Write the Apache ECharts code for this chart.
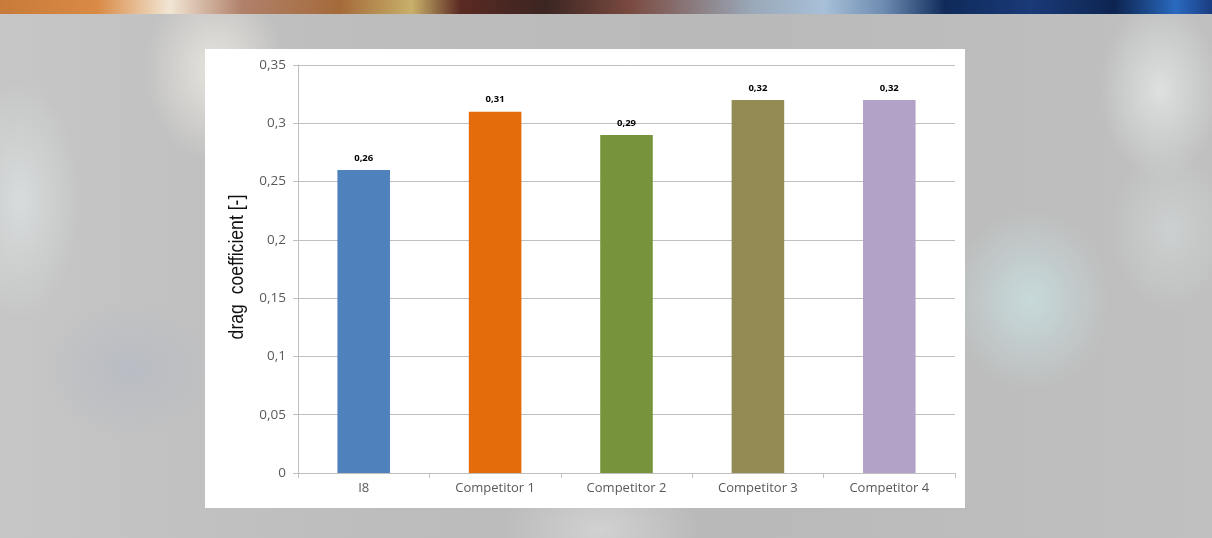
<!DOCTYPE html>
<html><head><meta charset="utf-8">
<script src="https://cdn.jsdelivr.net/npm/echarts@6/dist/echarts.min.js"></script>
<style>
html,body{margin:0;padding:0;width:1212px;height:538px;overflow:hidden;}
body{position:relative;background:#bcbcbc;}
#bg{position:absolute;left:0;top:0;width:1212px;height:538px;
background:
radial-gradient(ellipse 70px 90px at 215px 70px, rgba(235,232,225,0.9), rgba(235,232,225,0) 100%),
radial-gradient(ellipse 60px 120px at 20px 200px, rgba(220,225,225,0.8), rgba(220,225,225,0) 100%),
radial-gradient(ellipse 80px 90px at 1030px 300px, rgba(200,220,222,0.9), rgba(200,220,222,0) 100%),
radial-gradient(ellipse 60px 90px at 1160px 90px, rgba(225,228,228,0.9), rgba(225,228,228,0) 100%),
radial-gradient(ellipse 60px 80px at 1170px 230px, rgba(210,215,215,0.7), rgba(210,215,215,0) 100%),
radial-gradient(ellipse 90px 70px at 130px 370px, rgba(180,185,195,0.7), rgba(180,185,195,0) 100%),
radial-gradient(ellipse 100px 60px at 600px 530px, rgba(215,215,215,0.8), rgba(215,215,215,0) 100%),
linear-gradient(90deg,#c6c6c6 0%,#bdbdbd 30%,#b9b9b9 60%,#c0c0c0 100%);}
#strip{position:absolute;left:0;top:0;width:1212px;height:14px;
background:linear-gradient(90deg,#c87a3a 0%,#d98a45 8%,#f1e6d4 14%,#b0806a 20%,#a46a3a 28%,#c8b06a 34%,#5a2a22 38%,#3b2522 45%,#7a4a40 52%,#9aa8b8 62%,#a8c0d8 68%,#6c8ab0 73%,#0f2a5a 78%,#1a3a78 85%,#0d2450 92%,#2a6ac0 97%,#1a3c80 100%);}
#chart{position:absolute;left:205px;top:49px;width:760px;height:459px;background:#fff;}
</style></head>
<body>
<div id="bg"></div><div id="strip"></div>
<div id="chart"></div>
<script>
const categories = ['I8','Competitor 1','Competitor 2','Competitor 3','Competitor 4'];
const values = [0.26, 0.31, 0.29, 0.32, 0.32];
const colors = ['#4F81BD','#E46C0A','#77933C','#948A54','#B2A2C7'];
const yTicks = [0, 0.05, 0.1, 0.15, 0.2, 0.25, 0.3, 0.35];
const yTitle = 'drag  coefficient [-]';
const fmt = v => String(v).replace('.', ',');
const chart = echarts.init(document.getElementById('chart'), null, {renderer:'canvas'});
chart.setOption({
  animation:false,
  grid:{left:93, right:10, top:16, bottom:35},
  graphic:[{type:'text', x:32, y:218, rotation:Math.PI/2, scaleX:0.84,
    style:{text:yTitle, fill:'#111', font:'21px "Liberation Sans", Arial, sans-serif',
      textAlign:'center', textVerticalAlign:'middle'}}],
  xAxis:{type:'category', data:categories,
    axisLine:{lineStyle:{color:'#bfbfbf'}},
    axisTick:{show:true, alignWithLabel:false, length:5, lineStyle:{color:'#bfbfbf'}},
    axisLabel:{color:'#595959', fontSize:13, fontFamily:'Open Sans, Liberation Sans, sans-serif', margin:9}},
  yAxis:{type:'value', min:0, max:0.35, interval:0.05,
    axisLine:{show:true, lineStyle:{color:'#bfbfbf'}},
    axisTick:{show:true, length:5, lineStyle:{color:'#bfbfbf'}},
    splitLine:{lineStyle:{color:'#bfbfbf'}},
    axisLabel:{color:'#595959', fontSize:13.5, fontFamily:'Open Sans, Liberation Sans, sans-serif', margin:12,
      formatter:v => fmt(+v.toFixed(2))}},
  series:[{type:'bar', barWidth:'40%',
    data: values.map((v,i)=>({value:v, itemStyle:{color:colors[i]}})),
    label:{show:true, position:'top', distance:7, color:'#000', fontSize:9.5, fontWeight:'bold',
      fontFamily:'Open Sans, Liberation Sans, sans-serif', formatter:p=>fmt(p.value)}}]
});
</script>
</body></html>
